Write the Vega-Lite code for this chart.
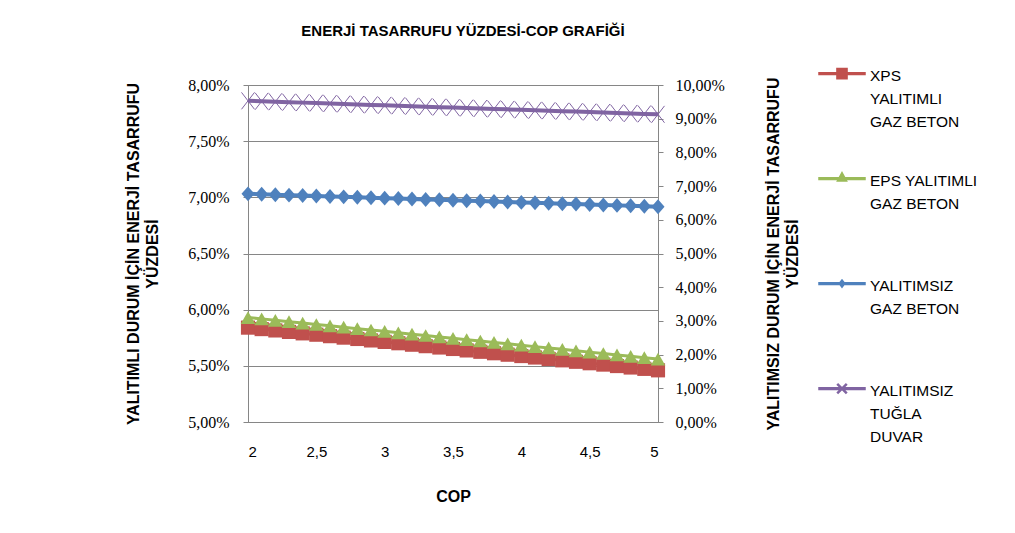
{
  "$schema": "https://vega.github.io/schema/vega-lite/v6.json",
  "width": 410,
  "height": 337,
  "padding": {"left": 125, "top": 24, "right": 0, "bottom": 0},
  "background": "white",
  "title": {
    "text": "ENERJİ TASARRUFU YÜZDESİ-COP GRAFİĞİ",
    "font": "Liberation Sans",
    "fontSize": 15,
    "fontWeight": "bold",
    "color": "#000000",
    "offset": 6,
    "dx": 10
  },
  "config": {
    "locale": {"number": {"decimal": ",", "thousands": ".", "grouping": [3], "currency": ["", " TL"]}},
    "view": {"stroke": "#868686", "strokeWidth": 1},
    "axis": {
      "labelFont": "Liberation Serif",
      "labelFontSize": 16,
      "labelColor": "#000000",
      "titleFont": "Liberation Sans",
      "titleFontSize": 16,
      "titleFontWeight": "bold",
      "titleColor": "#000000",
      "titleLineHeight": 19,
      "domainColor": "#868686",
      "tickColor": "#868686",
      "gridColor": "#868686",
      "gridOpacity": 1
    },
    "legend": {"symbolOpacity": 1}
  },
  "data": {
    "values": [
      {"cop": 2.0, "series": "XPS YALITIMLI GAZ BETON", "value": 0.05840},
      {"cop": 2.1, "series": "XPS YALITIMLI GAZ BETON", "value": 0.05827},
      {"cop": 2.2, "series": "XPS YALITIMLI GAZ BETON", "value": 0.05815},
      {"cop": 2.3, "series": "XPS YALITIMLI GAZ BETON", "value": 0.05802},
      {"cop": 2.4, "series": "XPS YALITIMLI GAZ BETON", "value": 0.05789},
      {"cop": 2.5, "series": "XPS YALITIMLI GAZ BETON", "value": 0.05777},
      {"cop": 2.6, "series": "XPS YALITIMLI GAZ BETON", "value": 0.05764},
      {"cop": 2.7, "series": "XPS YALITIMLI GAZ BETON", "value": 0.05751},
      {"cop": 2.8, "series": "XPS YALITIMLI GAZ BETON", "value": 0.05739},
      {"cop": 2.9, "series": "XPS YALITIMLI GAZ BETON", "value": 0.05726},
      {"cop": 3.0, "series": "XPS YALITIMLI GAZ BETON", "value": 0.05713},
      {"cop": 3.1, "series": "XPS YALITIMLI GAZ BETON", "value": 0.05701},
      {"cop": 3.2, "series": "XPS YALITIMLI GAZ BETON", "value": 0.05688},
      {"cop": 3.3, "series": "XPS YALITIMLI GAZ BETON", "value": 0.05675},
      {"cop": 3.4, "series": "XPS YALITIMLI GAZ BETON", "value": 0.05663},
      {"cop": 3.5, "series": "XPS YALITIMLI GAZ BETON", "value": 0.05650},
      {"cop": 3.6, "series": "XPS YALITIMLI GAZ BETON", "value": 0.05637},
      {"cop": 3.7, "series": "XPS YALITIMLI GAZ BETON", "value": 0.05625},
      {"cop": 3.8, "series": "XPS YALITIMLI GAZ BETON", "value": 0.05612},
      {"cop": 3.9, "series": "XPS YALITIMLI GAZ BETON", "value": 0.05599},
      {"cop": 4.0, "series": "XPS YALITIMLI GAZ BETON", "value": 0.05587},
      {"cop": 4.1, "series": "XPS YALITIMLI GAZ BETON", "value": 0.05574},
      {"cop": 4.2, "series": "XPS YALITIMLI GAZ BETON", "value": 0.05561},
      {"cop": 4.3, "series": "XPS YALITIMLI GAZ BETON", "value": 0.05549},
      {"cop": 4.4, "series": "XPS YALITIMLI GAZ BETON", "value": 0.05536},
      {"cop": 4.5, "series": "XPS YALITIMLI GAZ BETON", "value": 0.05523},
      {"cop": 4.6, "series": "XPS YALITIMLI GAZ BETON", "value": 0.05511},
      {"cop": 4.7, "series": "XPS YALITIMLI GAZ BETON", "value": 0.05498},
      {"cop": 4.8, "series": "XPS YALITIMLI GAZ BETON", "value": 0.05485},
      {"cop": 4.9, "series": "XPS YALITIMLI GAZ BETON", "value": 0.05473},
      {"cop": 5.0, "series": "XPS YALITIMLI GAZ BETON", "value": 0.05460},
      {"cop": 2.0, "series": "EPS YALITIMLI GAZ BETON", "value": 0.05930},
      {"cop": 2.1, "series": "EPS YALITIMLI GAZ BETON", "value": 0.05918},
      {"cop": 2.2, "series": "EPS YALITIMLI GAZ BETON", "value": 0.05905},
      {"cop": 2.3, "series": "EPS YALITIMLI GAZ BETON", "value": 0.05893},
      {"cop": 2.4, "series": "EPS YALITIMLI GAZ BETON", "value": 0.05881},
      {"cop": 2.5, "series": "EPS YALITIMLI GAZ BETON", "value": 0.05868},
      {"cop": 2.6, "series": "EPS YALITIMLI GAZ BETON", "value": 0.05856},
      {"cop": 2.7, "series": "EPS YALITIMLI GAZ BETON", "value": 0.05844},
      {"cop": 2.8, "series": "EPS YALITIMLI GAZ BETON", "value": 0.05831},
      {"cop": 2.9, "series": "EPS YALITIMLI GAZ BETON", "value": 0.05819},
      {"cop": 3.0, "series": "EPS YALITIMLI GAZ BETON", "value": 0.05807},
      {"cop": 3.1, "series": "EPS YALITIMLI GAZ BETON", "value": 0.05794},
      {"cop": 3.2, "series": "EPS YALITIMLI GAZ BETON", "value": 0.05782},
      {"cop": 3.3, "series": "EPS YALITIMLI GAZ BETON", "value": 0.05770},
      {"cop": 3.4, "series": "EPS YALITIMLI GAZ BETON", "value": 0.05757},
      {"cop": 3.5, "series": "EPS YALITIMLI GAZ BETON", "value": 0.05745},
      {"cop": 3.6, "series": "EPS YALITIMLI GAZ BETON", "value": 0.05733},
      {"cop": 3.7, "series": "EPS YALITIMLI GAZ BETON", "value": 0.05721},
      {"cop": 3.8, "series": "EPS YALITIMLI GAZ BETON", "value": 0.05708},
      {"cop": 3.9, "series": "EPS YALITIMLI GAZ BETON", "value": 0.05696},
      {"cop": 4.0, "series": "EPS YALITIMLI GAZ BETON", "value": 0.05684},
      {"cop": 4.1, "series": "EPS YALITIMLI GAZ BETON", "value": 0.05671},
      {"cop": 4.2, "series": "EPS YALITIMLI GAZ BETON", "value": 0.05659},
      {"cop": 4.3, "series": "EPS YALITIMLI GAZ BETON", "value": 0.05647},
      {"cop": 4.4, "series": "EPS YALITIMLI GAZ BETON", "value": 0.05634},
      {"cop": 4.5, "series": "EPS YALITIMLI GAZ BETON", "value": 0.05622},
      {"cop": 4.6, "series": "EPS YALITIMLI GAZ BETON", "value": 0.05610},
      {"cop": 4.7, "series": "EPS YALITIMLI GAZ BETON", "value": 0.05597},
      {"cop": 4.8, "series": "EPS YALITIMLI GAZ BETON", "value": 0.05585},
      {"cop": 4.9, "series": "EPS YALITIMLI GAZ BETON", "value": 0.05573},
      {"cop": 5.0, "series": "EPS YALITIMLI GAZ BETON", "value": 0.05560},
      {"cop": 2.0, "series": "YALITIMSIZ GAZ BETON", "value": 0.06770},
      {"cop": 2.1, "series": "YALITIMSIZ GAZ BETON", "value": 0.06757},
      {"cop": 2.2, "series": "YALITIMSIZ GAZ BETON", "value": 0.06745},
      {"cop": 2.3, "series": "YALITIMSIZ GAZ BETON", "value": 0.06732},
      {"cop": 2.4, "series": "YALITIMSIZ GAZ BETON", "value": 0.06719},
      {"cop": 2.5, "series": "YALITIMSIZ GAZ BETON", "value": 0.06707},
      {"cop": 2.6, "series": "YALITIMSIZ GAZ BETON", "value": 0.06694},
      {"cop": 2.7, "series": "YALITIMSIZ GAZ BETON", "value": 0.06681},
      {"cop": 2.8, "series": "YALITIMSIZ GAZ BETON", "value": 0.06669},
      {"cop": 2.9, "series": "YALITIMSIZ GAZ BETON", "value": 0.06656},
      {"cop": 3.0, "series": "YALITIMSIZ GAZ BETON", "value": 0.06643},
      {"cop": 3.1, "series": "YALITIMSIZ GAZ BETON", "value": 0.06631},
      {"cop": 3.2, "series": "YALITIMSIZ GAZ BETON", "value": 0.06618},
      {"cop": 3.3, "series": "YALITIMSIZ GAZ BETON", "value": 0.06605},
      {"cop": 3.4, "series": "YALITIMSIZ GAZ BETON", "value": 0.06593},
      {"cop": 3.5, "series": "YALITIMSIZ GAZ BETON", "value": 0.06580},
      {"cop": 3.6, "series": "YALITIMSIZ GAZ BETON", "value": 0.06567},
      {"cop": 3.7, "series": "YALITIMSIZ GAZ BETON", "value": 0.06555},
      {"cop": 3.8, "series": "YALITIMSIZ GAZ BETON", "value": 0.06542},
      {"cop": 3.9, "series": "YALITIMSIZ GAZ BETON", "value": 0.06529},
      {"cop": 4.0, "series": "YALITIMSIZ GAZ BETON", "value": 0.06517},
      {"cop": 4.1, "series": "YALITIMSIZ GAZ BETON", "value": 0.06504},
      {"cop": 4.2, "series": "YALITIMSIZ GAZ BETON", "value": 0.06491},
      {"cop": 4.3, "series": "YALITIMSIZ GAZ BETON", "value": 0.06479},
      {"cop": 4.4, "series": "YALITIMSIZ GAZ BETON", "value": 0.06466},
      {"cop": 4.5, "series": "YALITIMSIZ GAZ BETON", "value": 0.06453},
      {"cop": 4.6, "series": "YALITIMSIZ GAZ BETON", "value": 0.06441},
      {"cop": 4.7, "series": "YALITIMSIZ GAZ BETON", "value": 0.06428},
      {"cop": 4.8, "series": "YALITIMSIZ GAZ BETON", "value": 0.06415},
      {"cop": 4.9, "series": "YALITIMSIZ GAZ BETON", "value": 0.06403},
      {"cop": 5.0, "series": "YALITIMSIZ GAZ BETON", "value": 0.06390},
      {"cop": 2.0, "series": "YALITIMSIZ TUĞLA DUVAR", "value": 0.09530},
      {"cop": 2.1, "series": "YALITIMSIZ TUĞLA DUVAR", "value": 0.09517},
      {"cop": 2.2, "series": "YALITIMSIZ TUĞLA DUVAR", "value": 0.09503},
      {"cop": 2.3, "series": "YALITIMSIZ TUĞLA DUVAR", "value": 0.09490},
      {"cop": 2.4, "series": "YALITIMSIZ TUĞLA DUVAR", "value": 0.09477},
      {"cop": 2.5, "series": "YALITIMSIZ TUĞLA DUVAR", "value": 0.09463},
      {"cop": 2.6, "series": "YALITIMSIZ TUĞLA DUVAR", "value": 0.09450},
      {"cop": 2.7, "series": "YALITIMSIZ TUĞLA DUVAR", "value": 0.09437},
      {"cop": 2.8, "series": "YALITIMSIZ TUĞLA DUVAR", "value": 0.09423},
      {"cop": 2.9, "series": "YALITIMSIZ TUĞLA DUVAR", "value": 0.09410},
      {"cop": 3.0, "series": "YALITIMSIZ TUĞLA DUVAR", "value": 0.09397},
      {"cop": 3.1, "series": "YALITIMSIZ TUĞLA DUVAR", "value": 0.09383},
      {"cop": 3.2, "series": "YALITIMSIZ TUĞLA DUVAR", "value": 0.09370},
      {"cop": 3.3, "series": "YALITIMSIZ TUĞLA DUVAR", "value": 0.09357},
      {"cop": 3.4, "series": "YALITIMSIZ TUĞLA DUVAR", "value": 0.09343},
      {"cop": 3.5, "series": "YALITIMSIZ TUĞLA DUVAR", "value": 0.09330},
      {"cop": 3.6, "series": "YALITIMSIZ TUĞLA DUVAR", "value": 0.09317},
      {"cop": 3.7, "series": "YALITIMSIZ TUĞLA DUVAR", "value": 0.09303},
      {"cop": 3.8, "series": "YALITIMSIZ TUĞLA DUVAR", "value": 0.09290},
      {"cop": 3.9, "series": "YALITIMSIZ TUĞLA DUVAR", "value": 0.09277},
      {"cop": 4.0, "series": "YALITIMSIZ TUĞLA DUVAR", "value": 0.09263},
      {"cop": 4.1, "series": "YALITIMSIZ TUĞLA DUVAR", "value": 0.09250},
      {"cop": 4.2, "series": "YALITIMSIZ TUĞLA DUVAR", "value": 0.09237},
      {"cop": 4.3, "series": "YALITIMSIZ TUĞLA DUVAR", "value": 0.09223},
      {"cop": 4.4, "series": "YALITIMSIZ TUĞLA DUVAR", "value": 0.09210},
      {"cop": 4.5, "series": "YALITIMSIZ TUĞLA DUVAR", "value": 0.09197},
      {"cop": 4.6, "series": "YALITIMSIZ TUĞLA DUVAR", "value": 0.09183},
      {"cop": 4.7, "series": "YALITIMSIZ TUĞLA DUVAR", "value": 0.09170},
      {"cop": 4.8, "series": "YALITIMSIZ TUĞLA DUVAR", "value": 0.09157},
      {"cop": 4.9, "series": "YALITIMSIZ TUĞLA DUVAR", "value": 0.09143},
      {"cop": 5.0, "series": "YALITIMSIZ TUĞLA DUVAR", "value": 0.09130}
    ]
  },
  "encoding": {
    "x": {
      "field": "cop",
      "type": "quantitative",
      "scale": {"domain": [2, 5], "nice": false, "zero": false},
      "axis": {
        "values": [2, 2.5, 3, 3.5, 4, 4.5, 5],
        "format": "~g",
        "grid": false,
        "domain": false,
        "ticks": false,
        "labelPadding": 22,
        "labelFont": "Liberation Sans",
        "labelFontSize": 15,
        "title": "COP",
        "titlePadding": 29
      }
    },
    "color": {
      "field": "series",
      "type": "nominal",
      "scale": {
        "domain": ["XPS YALITIMLI GAZ BETON", "EPS YALITIMLI GAZ BETON", "YALITIMSIZ GAZ BETON", "YALITIMSIZ TUĞLA DUVAR"],
        "range": ["#C0504D", "#9BBB59", "#4F81BD", "#8064A2"]
      },
      "legend": {
        "title": null,
        "orient": "none",
        "legendX": 570,
        "legendY": -40,
        "direction": "vertical",
        "gridAlign": "all",
        "rowPadding": 19,
        "labelFont": "Liberation Sans",
        "labelFontSize": 15.5,
        "labelColor": "#000000",
        "labelBaseline": "top",
        "labelLimit": 200,
        "symbolSize": 2116,
        "encoding": {"labels": {"lineHeight": {"value": 23}}},
        "labelExpr": "datum.label == 'XPS YALITIMLI GAZ BETON' ? ['XPS', 'YALITIMLI', 'GAZ BETON'] : datum.label == 'EPS YALITIMLI GAZ BETON' ? ['EPS YALITIMLI', 'GAZ BETON'] : datum.label == 'YALITIMSIZ GAZ BETON' ? ['YALITIMSIZ', 'GAZ BETON'] : ['YALITIMSIZ', 'TUĞLA', 'DUVAR']"
      }
    }
  },
  "layer": [
    {
      "encoding": {
        "y": {
          "field": "value",
          "type": "quantitative",
          "scale": {"domain": [0.05, 0.08], "nice": false, "zero": false},
          "axis": {
            "values": [0.05, 0.055, 0.06, 0.065, 0.07, 0.075, 0.08],
            "format": ".2%",
            "grid": true,
            "tickSize": 5,
            "labelPadding": 14,
            "title": ["YALITIMLI  DURUM İÇİN ENERJİ TASARRUFU", "YÜZDESİ"],
            "titlePadding": 27
          }
        }
      },
      "layer": [
        {
          "transform": [{"filter": "datum.series == 'XPS YALITIMLI GAZ BETON' || datum.series == 'EPS YALITIMLI GAZ BETON'"}],
          "mark": {"type": "line", "strokeWidth": 3}
        },
        {
          "transform": [{"filter": "datum.series == 'XPS YALITIMLI GAZ BETON'"}],
          "mark": {"type": "point", "shape": "square", "filled": true, "size": 200, "opacity": 1}
        },
        {
          "transform": [{"filter": "datum.series == 'EPS YALITIMLI GAZ BETON'"}],
          "mark": {"type": "point", "shape": "triangle-up", "filled": true, "size": 215, "opacity": 1}
        },
        {
          "mark": {"type": "point", "filled": true, "opacity": 0, "clip": true},
          "encoding": {
            "shape": {
              "field": "series",
              "type": "nominal",
              "scale": {
                "domain": ["XPS YALITIMLI GAZ BETON", "EPS YALITIMLI GAZ BETON", "YALITIMSIZ GAZ BETON", "YALITIMSIZ TUĞLA DUVAR"],
                "range": [
                  "M-1,0.16H1V0.24H-1Z M-0.22,-0.02H0.22V0.42H-0.22Z",
                  "M-1,0.16H1V0.24H-1Z M0,-0.06L0.2,0.3H-0.2Z",
                  "M-1,0.16H1V0.24H-1Z M0,0.04L0.12,0.2L0,0.36L-0.12,0.2Z",
                  "M-1,0.16H1V0.24H-1Z M-0.2,0.03L-0.17,0L0.2,0.37L0.17,0.4Z M-0.2,0.37L0.17,0L0.2,0.03L-0.17,0.4Z"
                ]
              }
            }
          }
        }
      ]
    },
    {
      "encoding": {
        "y": {
          "field": "value",
          "type": "quantitative",
          "scale": {"domain": [0, 0.1], "nice": false, "zero": false},
          "axis": {
            "orient": "right",
            "values": [0, 0.01, 0.02, 0.03, 0.04, 0.05, 0.06, 0.07, 0.08, 0.09, 0.1],
            "format": ".2%",
            "grid": false,
            "tickSize": 5,
            "labelPadding": 12,
            "title": ["YALITIMSIZ DURUM İÇİN ENERJİ TASARRUFU", "YÜZDESİ"],
            "titleAngle": 270,
            "titlePadding": 38
          }
        }
      },
      "layer": [
        {
          "transform": [{"filter": "datum.series == 'YALITIMSIZ GAZ BETON'"}],
          "mark": {"type": "point", "shape": "M0,-1.15L1,0L0,1.15L-1,0Z", "filled": true, "size": 169, "opacity": 1}
        },
        {
          "transform": [{"filter": "datum.series == 'YALITIMSIZ TUĞLA DUVAR'"}],
          "mark": {"type": "point", "shape": "M-1,-1.3L1,1.3M-1,1.3L1,-1.3", "filled": false, "size": 169, "strokeWidth": 1, "opacity": 1}
        },
        {
          "transform": [{"filter": "datum.series == 'YALITIMSIZ GAZ BETON' || datum.series == 'YALITIMSIZ TUĞLA DUVAR'"}],
          "mark": {"type": "line", "strokeWidth": 4}
        }
      ]
    }
  ],
  "resolve": {"scale": {"y": "independent"}}
}
